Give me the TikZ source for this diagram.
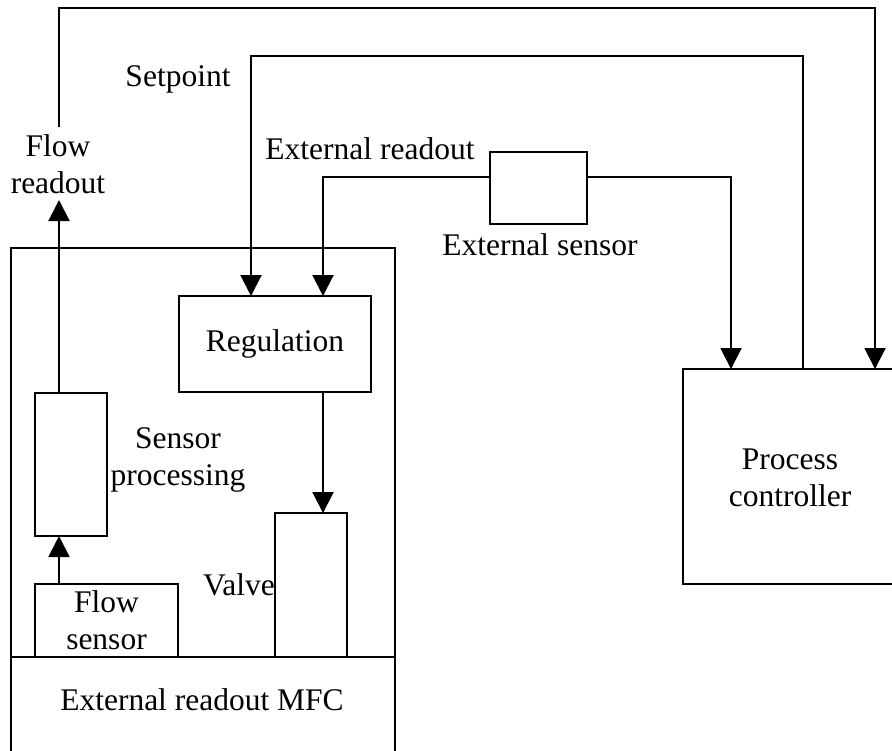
\documentclass[tikz,border=0pt]{standalone}
\usepackage{fontspec}
\setmainfont{Liberation Serif}
\usetikzlibrary{arrows.meta}

\begin{document}
\begin{tikzpicture}[x=0.5pt,y=-0.5pt,
  every node/.style={font=\fontsize{15.75}{18.5}\selectfont},
  box/.style={draw,line width=1pt,inner sep=0pt,outer sep=0pt,align=center},
  lbl/.style={inner sep=0pt,outer sep=0pt,align=center,anchor=base},
  wire/.style={line width=1pt},
  arr/.style={line width=1pt,-{Triangle[length=10.5pt,width=10.5pt]}}]
\useasboundingbox (0,0) rectangle (892,750);
\clip (0,0) rectangle (892,750);

% blocks
\node[box,minimum width=192pt,minimum height=276pt] (mfc) at (203,524) {};
\node[box,minimum width=96pt,minimum height=48pt] (reg) at (275,344) {Regulation};
\node[box,minimum width=36pt,minimum height=71.5pt] (sp) at (71,464.5) {};
\node[box,minimum width=71.5pt,minimum height=36.5pt] (fs) at (106.5,620.5) {Flow\\sensor};
\node[box,minimum width=36pt,minimum height=72pt] (valve) at (311,585) {};
\node[box,minimum width=48.5pt,minimum height=36pt] (es) at (538.5,188) {};
\node[box,minimum width=133.5pt,minimum height=107.5pt] (pc) at (816.5,476.5) {};

% divider of the MFC body
\coordinate (dv) at (0,657);
\draw[wire] (mfc.west |- dv) -- (mfc.east |- dv);

% labels (base anchor sits on the last line)
\node[lbl] (frl) at (58,193) {Flow\\readout};
\node[lbl] (setl) at (178,86) {Setpoint};
\node[lbl] (erl) at (370,159) {External readout};
\node[lbl] (esl) at (540,255) {External sensor};
\node[lbl] (spl) at (178,485) {Sensor\\processing};
\node[lbl] (vl) at (239,595) {Valve};
\node[lbl] (mfcl) at (202,710) {External readout MFC};
\node[lbl] (pcl) at (790,506) {Process\\controller};

% bend points
\coordinate (fro) at (59,200);
\coordinate (frt) at (59,127);
\coordinate (top) at (875,8);
\coordinate (spR) at (803,56);
\coordinate (spL) at (251,56);
\coordinate (erL) at (323,177);
\coordinate (erR) at (731,177);

% connectors
\draw[arr] (fs.north -| fro) -- (sp.south -| fro);
\draw[arr] (sp.north -| fro) -- (fro);
\draw[arr] (frt) |- (top) -- (top |- pc.north);
\draw[arr] (pc.north -| spR) -- (spR) -- (spL) -- (reg.north -| spL);
\draw[arr] (es.west |- erL) -- (erL) -- (reg.north -| erL);
\draw[arr] (es.east |- erR) -- (erR) -- (erR |- pc.north);
\draw[arr] (reg.south -| erL) -- (valve.north -| erL);
\end{tikzpicture}
\end{document}
